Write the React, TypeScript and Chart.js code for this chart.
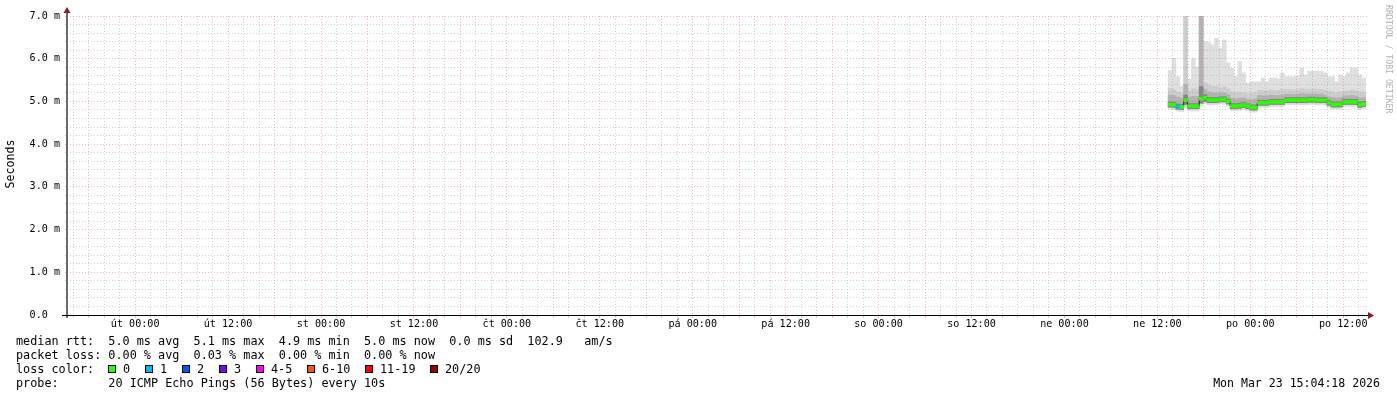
import React, { useEffect, useRef } from 'react';
import { Chart, registerables } from 'chart.js';

Chart.register(...registerables);

const FONT = "'DejaVu Sans Mono', monospace";

// x axis in hours relative to Tuesday 00:00
const X_MIN = -8.8;
const X_MAX = 159.2;
const DAY_NAMES = ['út', 'st', 'čt', 'pá', 'so', 'ne', 'po'];

// smoke columns (30 min each) starting Sunday ~13:24
const COL_START = 133.4;
const COL_STEP = 0.5;

const median = [
  4.93, 4.92, 4.88, 4.87, 5.03, 4.89, 4.89, 4.89, 5.06, 5.09,
  5.03, 5.03, 5.03, 5.05, 5.05, 5.0, 4.89, 4.89, 4.9, 4.92,
  4.89, 4.86, 4.86, 4.97, 4.97, 4.97, 4.99, 4.99, 4.99, 4.99,
  5.03, 5.03, 5.03, 5.03, 5.03, 5.03, 5.04, 5.04, 5.03, 5.03,
  5.03, 4.97, 4.93, 4.93, 4.93, 4.99, 4.99, 4.99, 4.99, 4.92, 4.94,
];
const smokeMax = [
  5.72, 6.01, 5.58, 5.35, 7.2, 5.52, 6.0, 5.81, 7.2, 6.4,
  6.38, 6.33, 6.48, 6.25, 6.44, 5.9, 5.78, 5.58, 5.93, 5.67,
  5.43, 5.46, 5.46, 5.46, 5.55, 5.46, 5.55, 5.55, 5.53, 5.67,
  5.58, 5.58, 5.58, 5.6, 5.78, 5.62, 5.71, 5.71, 5.71, 5.71,
  5.67, 5.58, 5.58, 5.46, 5.62, 5.58, 5.67, 5.79, 5.79, 5.62, 5.55,
];
const smokeHi = [
  5.3, 5.28, 5.22, 5.2, 7.2, 5.25, 5.3, 5.28, 7.2, 5.45,
  5.38, 5.35, 5.36, 5.32, 5.34, 5.3, 5.22, 5.2, 5.22, 5.2,
  5.18, 5.18, 5.2, 5.26, 5.25, 5.25, 5.27, 5.26, 5.26, 5.28,
  5.28, 5.28, 5.27, 5.28, 5.3, 5.28, 5.28, 5.29, 5.28, 5.28,
  5.26, 5.24, 5.22, 5.2, 5.22, 5.24, 5.25, 5.26, 5.25, 5.22, 5.22,
];
const smokeMid = [
  5.15, 5.14, 5.1, 5.08, 5.4, 5.1, 5.12, 5.12, 7.2, 5.28,
  5.22, 5.2, 5.2, 5.2, 5.2, 5.16, 5.08, 5.06, 5.08, 5.08,
  5.05, 5.04, 5.06, 5.14, 5.13, 5.13, 5.15, 5.14, 5.14, 5.15,
  5.17, 5.17, 5.16, 5.17, 5.18, 5.17, 5.17, 5.18, 5.17, 5.17,
  5.15, 5.11, 5.09, 5.08, 5.09, 5.13, 5.13, 5.14, 5.13, 5.08, 5.09,
];
const smokeCore = [
  4.99, 4.98, 4.94, 4.93, 5.15, 4.95, 4.95, 4.95, 5.35, 5.16,
  5.09, 5.09, 5.09, 5.11, 5.11, 5.06, 4.95, 4.95, 4.96, 4.98,
  4.95, 4.92, 4.92, 5.03, 5.03, 5.03, 5.05, 5.05, 5.05, 5.05,
  5.09, 5.09, 5.09, 5.09, 5.09, 5.09, 5.1, 5.1, 5.09, 5.09,
  5.09, 5.03, 4.99, 4.99, 4.99, 5.05, 5.05, 5.05, 5.05, 4.98, 5.0,
];
const smokeLo = [
  4.87, 4.86, 4.82, 4.81, 4.93, 4.83, 4.83, 4.83, 4.96, 5.0,
  4.97, 4.97, 4.97, 4.99, 4.99, 4.94, 4.83, 4.83, 4.84, 4.86,
  4.83, 4.8, 4.8, 4.91, 4.91, 4.91, 4.93, 4.93, 4.93, 4.93,
  4.97, 4.97, 4.97, 4.97, 4.97, 4.97, 4.98, 4.98, 4.97, 4.97,
  4.97, 4.91, 4.87, 4.87, 4.87, 4.93, 4.93, 4.93, 4.93, 4.86, 4.88,
];
const smokeMin = [
  4.82, 4.81, 4.77, 4.76, 4.88, 4.78, 4.78, 4.78, 4.9, 4.94,
  4.92, 4.92, 4.92, 4.94, 4.94, 4.89, 4.78, 4.78, 4.79, 4.81,
  4.78, 4.75, 4.75, 4.86, 4.86, 4.86, 4.88, 4.88, 4.88, 4.88,
  4.92, 4.92, 4.92, 4.92, 4.92, 4.92, 4.93, 4.93, 4.92, 4.92,
  4.92, 4.86, 4.82, 4.82, 4.82, 4.88, 4.88, 4.88, 4.88, 4.81, 4.83,
];
const lossClass = [
  0, 0, 1, 0, 0, 0, 0, 0, 0, 0,
  0, 0, 0, 0, 0, 0, 0, 0, 0, 0,
  0, 0, 0, 0, 0, 0, 0, 0, 0, 0,
  0, 0, 0, 0, 0, 0, 0, 0, 0, 0,
  0, 0, 0, 0, 0, 0, 0, 0, 0, 0, 0,
];

const LOSS_LABELS = ['0', '1', '2', '3', '4-5', '6-10', '11-19', '20/20'];
const LOSS_COLORS = ['#26ff00', '#00b8ff', '#0059ff', '#7e00ff', '#ff00ff', '#ff5500', '#ff0000', '#a10000'];
const LOSS_BOX_X = [108, 145, 182, 219, 256, 307, 365, 430];

const LEGEND_LINES = [
  'median rtt:  5.0 ms avg  5.1 ms max  4.9 ms min  5.0 ms now  0.0 ms sd  102.9   am/s',
  'packet loss: 0.00 % avg  0.03 % max  0.00 % min  0.00 % now',
  'loss color:',
  'probe:       20 ICMP Echo Pings (56 Bytes) every 10s',
];
const DATE_TEXT = 'Mon Mar 23 15:04:18 2026';
const WATERMARK = 'RRDTOOL / TOBI OETIKER';
const Y_TITLE = 'Seconds';

const MINOR = 'rgba(150,150,150,0.42)';
const MAJOR = 'rgba(230,90,90,0.42)';
const ARROW = '#9c1616';

const colTimes = median.map((_, i) => COL_START + COL_STEP * i + COL_STEP / 2);
const xTickHours: number[] = [];
for (let h = -8; h <= 158; h += 2) xTickHours.push(h);
const yTickValues: number[] = [];
for (let i = 0; i <= 35; i++) yTickValues.push(Math.round(i * 2) / 10);

const isInt = (v: number) => Math.abs(v - Math.round(v)) < 1e-6;

function layer(lo: number[], hi: number[], color: string, order: number) {
  return {
    type: 'bar' as const,
    data: colTimes.map((t, i) => ({ x: t, y: [lo[i], hi[i]] })),
    backgroundColor: color,
    borderWidth: 0,
    grouped: false,
    barPercentage: 1,
    categoryPercentage: 1,
    order,
  };
}

const extras = {
  id: 'extras',
  afterDraw(chart: any) {
    const { ctx, chartArea: a } = chart;
    ctx.save();
    // axes
    ctx.fillStyle = '#6a6a6a';
    ctx.fillRect(a.left - 1, a.top - 6, 2, a.bottom - a.top + 9);
    ctx.fillStyle = '#000';
    ctx.fillRect(a.left - 5, a.bottom, a.right - a.left + 7, 1);
    // arrows
    ctx.fillStyle = ARROW;
    ctx.beginPath();
    ctx.moveTo(a.left - 3.5, a.top - 3);
    ctx.lineTo(a.left + 3.5, a.top - 3);
    ctx.lineTo(a.left, a.top - 9);
    ctx.closePath();
    ctx.fill();
    ctx.beginPath();
    ctx.moveTo(a.right, a.bottom - 3);
    ctx.lineTo(a.right, a.bottom + 4);
    ctx.lineTo(a.right + 6, a.bottom + 0.5);
    ctx.closePath();
    ctx.fill();

    // y title
    ctx.fillStyle = '#000';
    ctx.font = `11.6px ${FONT}`;
    ctx.save();
    ctx.translate(11, 164);
    ctx.rotate(-Math.PI / 2);
    ctx.textAlign = 'center';
    ctx.textBaseline = 'middle';
    ctx.fillText(Y_TITLE, 0, 0);
    ctx.restore();

    // watermark
    ctx.save();
    ctx.fillStyle = '#b0b0b0';
    ctx.font = `8.2px ${FONT}`;
    ctx.translate(1388, 5);
    ctx.rotate(Math.PI / 2);
    ctx.textAlign = 'left';
    ctx.textBaseline = 'middle';
    ctx.fillText(WATERMARK, 0, 0);
    ctx.restore();

    // legend
    ctx.fillStyle = '#000';
    ctx.font = `11.8px ${FONT}`;
    ctx.textAlign = 'left';
    ctx.textBaseline = 'alphabetic';
    LEGEND_LINES.forEach((line, i) => ctx.fillText(line, 16, 345 + 14 * i));
    LOSS_LABELS.forEach((lab, i) => {
      const bx = LOSS_BOX_X[i];
      ctx.fillStyle = LOSS_COLORS[i];
      ctx.fillRect(bx, 365, 8, 8);
      ctx.strokeStyle = '#000';
      ctx.lineWidth = 1;
      ctx.strokeRect(bx + 0.5, 365.5, 7, 7);
      ctx.fillStyle = '#000';
      ctx.fillText(lab, bx + 15, 373);
    });
    ctx.font = `11.55px ${FONT}`;
    ctx.textAlign = 'right';
    ctx.fillText(DATE_TEXT, 1380, 387);
    ctx.restore();
  },
};

export default function App() {
  const ref = useRef<HTMLCanvasElement>(null);
  useEffect(() => {
    const canvas = ref.current;
    if (!canvas) return;
    const chart = new Chart(canvas, {
      type: 'bar',
      data: {
        datasets: [
          layer(smokeMin, smokeMax, '#dfdfdf', 7),
          layer(smokeLo, smokeHi, '#cdcdcd', 6),
          layer(smokeLo, smokeMid, '#b2b2b2', 5),
          layer(smokeLo, smokeCore, '#858585', 4),
          {
            type: 'line',
            data: colTimes.map((t, i) => ({ x: t, y: median[i] })),
            borderColor: '#202020',
            borderWidth: 1,
            pointRadius: 0,
            stepped: 'middle',
            fill: false,
            order: 2,
          },
          {
            type: 'bar',
            data: colTimes.map((t, i) => ({ x: t, y: [median[i] - 0.035, median[i] + 0.035] })),
            backgroundColor: lossClass.map((c) => LOSS_COLORS[c]),
            borderWidth: 0,
            grouped: false,
            barPercentage: 1,
            categoryPercentage: 1,
            order: 1,
          },
        ] as any,
      },
      options: {
        responsive: false,
        animation: false,
        devicePixelRatio: 1,
        layout: { padding: { left: 0, right: 29, top: 16, bottom: 52 } },
        plugins: { legend: { display: false }, tooltip: { enabled: false } },
        scales: {
          x: {
            type: 'linear',
            min: X_MIN,
            max: X_MAX,
            offset: false,
            afterBuildTicks: (axis: any) => {
              axis.ticks = xTickHours.map((v) => ({ value: v }));
            },
            afterFit: (axis: any) => {
              axis.height = 30;
            },
            grid: {
              offset: false,
              z: 1,
              color: (c: any) => (c.tick && c.tick.value % 6 === 0 ? MAJOR : MINOR),
              tickColor: (c: any) => (c.tick && c.tick.value % 6 === 0 ? MAJOR : MINOR),
              tickLength: 3,
              lineWidth: 1,
            },
            border: { display: false, dash: [1, 2] },
            ticks: {
              autoSkip: false,
              maxRotation: 0,
              minRotation: 0,
              padding: 0,
              color: '#000',
              font: { family: FONT, size: 10.1 },
              callback: (v: any) => {
                const h = Number(v);
                if (h % 12 !== 0) return '';
                const day = DAY_NAMES[Math.floor(h / 24)];
                return `${day} ${h % 24 === 0 ? '00' : '12'}:00`;
              },
            },
          },
          y: {
            type: 'linear',
            min: 0,
            max: 7,
            afterBuildTicks: (axis: any) => {
              axis.ticks = yTickValues.map((v) => ({ value: v }));
            },
            afterFit: (axis: any) => {
              axis.width = 67;
            },
            grid: {
              z: 1,
              color: (c: any) => (c.tick && isInt(c.tick.value) ? MAJOR : MINOR),
              tickColor: (c: any) => (c.tick && isInt(c.tick.value) ? MAJOR : MINOR),
              tickLength: 2,
              lineWidth: 1,
            },
            border: { display: false, dash: [1, 2] },
            ticks: {
              autoSkip: false,
              padding: 5,
              color: '#000',
              font: { family: FONT, size: 10.1 },
              callback: (v: any) => {
                const n = Number(v);
                if (!isInt(n)) return '';
                if (n === 0) return '0.0  ';
                return `${n.toFixed(1)} m`;
              },
            },
          },
        },
      } as any,
      plugins: [extras],
    });
    return () => chart.destroy();
  }, []);
  return (
    <div style={{ position: 'absolute', left: 0, top: 0, width: 1397, height: 397, background: '#fff' }}>
      <canvas ref={ref} width={1397} height={397} style={{ display: 'block' }} />
    </div>
  );
}
